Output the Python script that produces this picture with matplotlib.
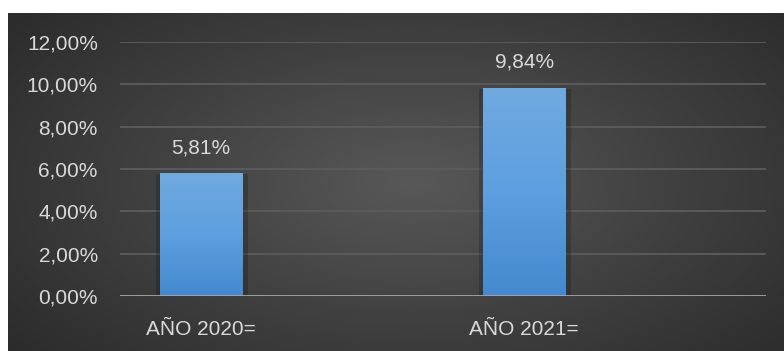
import matplotlib

matplotlib.use("Agg")
import matplotlib.pyplot as plt
import numpy as np
from matplotlib.colors import LinearSegmentedColormap
from matplotlib.patches import Rectangle

plt.rcParams["font.family"] = ["Liberation Sans", "DejaVu Sans"]

categories = ["AÑO 2020=", "AÑO 2021="]
values = [5.81, 9.84]
value_labels = ["5,81%", "9,84%"]
y_ticks = [0, 2, 4, 6, 8, 10, 12]
y_tick_labels = ["0,00%", "2,00%", "4,00%", "6,00%", "8,00%", "10,00%", "12,00%"]

TEXT = "#d9d9d9"
GRID = "#5c5c5c"
AXIS = "#a6a6a6"

W, H = 784, 351
fig = plt.figure(figsize=(W / 100, H / 100), dpi=100, facecolor="white")

# dark radial background of the chart area
bg = fig.add_axes([8 / W, 0, (W - 8) / W, (H - 13) / H])
bg.set_axis_off()
yy, xx = np.mgrid[0:1:300j, 0:1:600j]
r = np.sqrt(((xx - 0.52) / 0.75) ** 2 + ((yy - 0.5) / 0.9) ** 2)
shade = np.clip(r, 0, 1)
bg_cmap = LinearSegmentedColormap.from_list("bg", ["#585858", "#3e3e3e", "#262626"])
bg.imshow(shade, cmap=bg_cmap, aspect="auto", extent=[0, 1, 0, 1], vmin=0, vmax=1)
bg.set_xlim(0, 1)
bg.set_ylim(0, 1)

ax = fig.add_axes([120 / W, (H - 296) / H, (766 - 120) / W, (296 - 42) / H])
ax.patch.set_alpha(0)
x = np.arange(len(categories))
width = 0.254
ax.set_xlim(-0.251, 1.749)
ax.set_ylim(0, 12)

for yv in y_ticks[1:]:
    ax.axhline(yv, color=GRID, lw=1.3, zorder=1)

bar_cmap = LinearSegmentedColormap.from_list("bar", ["#4489cf", "#5d9fdf", "#70aae0"])
grad = np.linspace(0, 1, 256).reshape(-1, 1)
bars = ax.bar(x, values, width=width, color="#5b9bd5", zorder=3)
for bar, val, lab in zip(bars, values, value_labels):
    bx, bw = bar.get_x(), bar.get_width()
    # soft shadow behind the bar
    ax.add_patch(Rectangle((bx - 0.012, -0.1), bw + 0.03, val + 0.05,
                           color="black", alpha=0.18, zorder=2, lw=0))
    im = ax.imshow(grad, cmap=bar_cmap, aspect="auto", origin="lower",
                   extent=[bx, bx + bw, 0, val], zorder=3)
    im.set_clip_path(bar)
    ax.text(bx + bw / 2, val + 0.75, lab, ha="center", va="bottom",
            fontsize=15, color=TEXT)

ax.axhline(0, color=AXIS, lw=2, zorder=4)

ax.set_yticks(y_ticks)
ax.set_yticklabels(y_tick_labels)
ax.set_xticks(x)
ax.set_xticklabels(categories)
ax.tick_params(axis="y", length=0, pad=16, labelsize=15, labelcolor=TEXT)
ax.tick_params(axis="x", length=0, pad=17, labelsize=15, labelcolor=TEXT)
for s in ax.spines.values():
    s.set_visible(False)

fig.savefig("out.png", dpi=100, facecolor="white")
